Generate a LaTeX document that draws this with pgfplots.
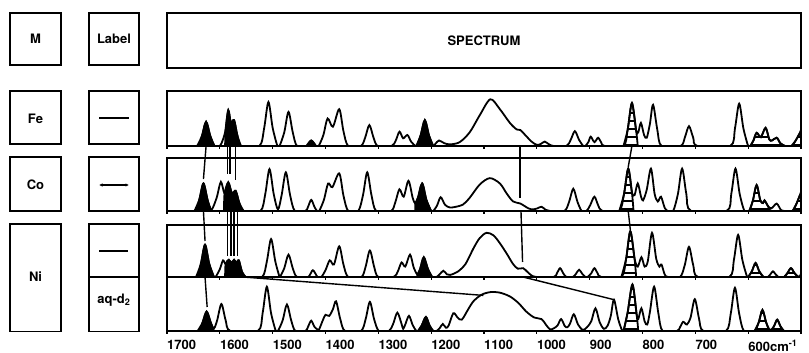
\documentclass[border=0pt]{standalone}
\usepackage{pgfplots}
\pgfplotsset{compat=1.18}
\usepackage{fontspec}
\setmainfont{TeX Gyre Heros}
\usetikzlibrary{patterns.meta,arrows.meta}

\pgfplotsset{
 panel/.style={scale only axis, width=634pt, height=#1, xmin=500, xmax=1700, x dir=reverse,
   ymin=0, ymax=1, ytick=\empty, xtick={500,600,...,1700}, xtick pos=lower, tick align=outside,
   major tick length=3pt, xticklabels={}, axis line style={line width=1.4pt},
   every tick/.style={line width=1.1pt, black}},
 spec/.style={smooth, tension=0.5, line width=1.8pt, black, no markers},
 blk/.style={smooth, tension=0.5, line width=1.8pt, draw=black, fill=black, no markers},
 hat/.style={smooth, tension=0.5, line width=1.8pt, draw=black, no markers,
   pattern={Lines[angle=0,distance=8pt,line width=1.4pt]}},
 conn/.style={line width=1.4pt, black, no markers},
}
\newcommand{\lab}{\fontsize{13}{15}\selectfont\bfseries}

\begin{document}
\begin{tikzpicture}[x=1pt,y=1pt]
\useasboundingbox (0,0) rectangle (809,353);
% ---------- boxes of the left columns and the header ----------
\begin{scope}[line width=1.4pt]
\draw (10,288) rectangle (61,340);
\draw (89,288) rectangle (139,340);
\draw (167,285) rectangle (801,340);
\draw (10,209) rectangle (61,262);
\draw (89,209) rectangle (139,262);
\draw (10,142) rectangle (61,196);
\draw (89,142) rectangle (139,196);
\draw (10,21.5) rectangle (61,129);
\draw (89,76) rectangle (139,129);
\draw (89,21.5) rectangle (139,76);
\end{scope}
\node[font=\lab] at (35.5,314) {M};
\node[font=\lab] at (114,314) {Label};
\node[font=\lab] at (484,312.5) {SPECTRUM};
\node[font=\lab] at (35.5,234) {Fe};
\node[font=\lab] at (35.5,168) {Co};
\node[font=\lab] at (35.5,76) {Ni};
\node[font=\lab] at (114,53) {aq-d\textsubscript{2}};
\draw[line width=2pt] (99,235) -- (129,235);
\draw[line width=1.3pt, {Latex[length=3.5pt,width=3.5pt]}-{Latex[length=3.5pt,width=3.5pt]}] (99,168) -- (129,168);
\draw[line width=1.6pt] (99,102) -- (128,102);

% ---------- Fe ----------
\begin{axis}[panel=55pt, at={(167pt,207pt)}, anchor=south west]
\addplot[blk] coordinates {(1643,0) (1634,0.18) (1626,0.44) (1618,0.18) (1610,0)} \closedcycle;
\addplot[blk] coordinates {(1590,0) (1589,0.3) (1584,0.65) (1579,0.42) (1573,0.47) (1567,0.2) (1560,0)} \closedcycle;
\addplot[blk] coordinates {(1436,0) (1427,0.1) (1418,0)} \closedcycle;
\addplot[blk] coordinates {(1228,0) (1220,0.19) (1212,0.47) (1204,0.19) (1196,0)} \closedcycle;
\addplot[hat] coordinates {(836,0) (828,0.3) (820,0.78) (812,0.28) (809,0)} \closedcycle;
\addplot[hat] coordinates {(596,0) (590,0.1) (584,0.24) (576,0.16) (567,0.33) (560,0.12) (555,0.1) (546,0.15) (539,0.05) (530,0)} \closedcycle;
\addplot[hat] coordinates {(518,0) (510,0.1) (502,0.24) (500,0.27) (500,0)} \closedcycle;
\addplot[spec] coordinates {
(1700,0) (1643,0) (1634,0.18) (1626,0.44) (1618,0.18) (1610,0)
(1600,0) (1594,0.12) (1589,0.3) (1584,0.65) (1579,0.42) (1573,0.47) (1567,0.2) (1560,0)
(1525,0) (1516,0.33) (1508,0.8) (1500,0.33) (1491,0)
(1487,0) (1478,0.25) (1470,0.62) (1462,0.25) (1454,0)
(1436,0) (1427,0.1) (1418,0)
(1413,0) (1404,0.2) (1396,0.5) (1386,0.35) (1374,0.67) (1366,0.27) (1357,0)
(1333,0) (1325,0.15) (1317,0.38) (1309,0.15) (1301,0)
(1275,0) (1267,0.1) (1260,0.26) (1253,0.14) (1245,0.2) (1238,0.08) (1230,0)
(1228,0) (1220,0.19) (1212,0.47) (1204,0.19) (1196,0)
(1192,0.04) (1185,0.1) (1175,0.05) (1164,0.03)
(1146,0.07) (1127,0.25) (1108,0.56) (1088,0.85) (1070,0.67) (1051,0.42) (1038,0.3) (1031,0.29) (1023,0.21) (1010,0.08) (1000,0.02) (992,0.04) (985,0.08) (977,0.03) (968,0)
(944,0) (936,0.11) (928,0.27) (920,0.11) (912,0)
(908,0) (902,0.08) (898,0.17) (891,0.07) (884,0.15) (878,0.06) (872,0)
(836,0) (828,0.3) (820,0.78) (812,0.28) (808,0.25) (803,0.42) (797,0.2) (792,0.15) (786,0.4) (780,0.75) (772,0.3) (764,0)
(728,0) (720,0.15) (712,0.36) (704,0.15) (696,0)
(634,0) (625,0.32) (617,0.77) (609,0.32) (600,0)
(596,0) (590,0.1) (584,0.24) (576,0.16) (567,0.33) (560,0.12) (555,0.1) (546,0.15) (539,0.05) (530,0)
(518,0) (510,0.1) (502,0.24) (500,0.27)};
\end{axis}

% ---------- Co ----------
\begin{axis}[panel=53pt, at={(167pt,142pt)}, anchor=south west]
\addplot[blk] coordinates {(1648,0) (1639,0.21) (1631,0.52) (1623,0.2) (1616,0)} \closedcycle;
\addplot[blk] coordinates {(1592,0) (1591,0.33) (1584,0.54) (1577,0.33) (1570,0.38) (1563,0.15) (1555,0)} \closedcycle;
\addplot[blk] coordinates {(1230,0) (1230,0.14) (1225,0.25) (1217,0.52) (1209,0.21) (1200,0)} \closedcycle;
\addplot[hat] coordinates {(844,0) (835,0.32) (827,0.8) (820,0.35) (817,0)} \closedcycle;
\addplot[hat] coordinates {(598,0) (591,0.2) (584,0.49) (577,0.2) (572,0.15) (569,0.2) (563,0.1) (558,0)} \closedcycle;
\addplot[hat] coordinates {(516,0) (508,0.15) (502,0.3) (500,0.33) (500,0)} \closedcycle;
\addplot[spec] coordinates {
(1700,0) (1648,0) (1639,0.21) (1631,0.52) (1623,0.2) (1616,0.02) (1606,0.25) (1598,0.55) (1591,0.33) (1584,0.54) (1577,0.33) (1570,0.38) (1563,0.15) (1555,0)
(1523,0) (1514,0.32) (1506,0.79) (1498,0.32) (1490,0.03) (1483,0.3) (1475,0.73) (1467,0.3) (1458,0)
(1438,0) (1433,0.08) (1427,0.21) (1421,0.08) (1416,0)
(1412,0) (1403,0.21) (1395,0.52) (1387,0.45) (1374,0.71) (1366,0.29) (1357,0)
(1338,0) (1329,0.3) (1321,0.73) (1313,0.3) (1304,0)
(1276,0) (1268,0.16) (1260,0.41) (1252,0.27) (1243,0.57) (1235,0.25) (1230,0.14) (1225,0.25) (1217,0.52) (1209,0.21) (1200,0)
(1196,0) (1189,0.1) (1182,0.26) (1174,0.12) (1166,0.07) (1158,0.07) (1140,0.12) (1127,0.25) (1108,0.5) (1089,0.62) (1070,0.52) (1057,0.33) (1045,0.18) (1031,0.14) (1016,0.05) (1007,0.03) (999,0.05) (991,0.08) (983,0.02) (975,0)
(948,0) (939,0.17) (931,0.42) (923,0.17) (915,0)
(906,0) (899,0.11) (891,0.27) (884,0.11) (876,0)
(844,0) (835,0.32) (827,0.8) (820,0.35) (815,0.3) (809,0.52) (803,0.28) (799,0.2) (792,0.4) (784,0.8) (777,0.32) (771,0.18) (765,0.27) (758,0.06) (752,0)
(742,0) (733,0.32) (725,0.8) (717,0.32) (708,0)
(641,0) (632,0.32) (624,0.8) (616,0.32) (607,0)
(598,0) (591,0.2) (584,0.49) (577,0.2) (572,0.15) (569,0.2) (563,0.1) (556,0.05) (546,0.14) (538,0.02) (530,0)
(516,0) (508,0.15) (502,0.3) (500,0.33)};
\end{axis}

% ---------- Ni ----------
\begin{axis}[panel=52pt, at={(167pt,76pt)}, anchor=south west]
\addplot[blk] coordinates {(1645,0) (1636,0.25) (1628,0.62) (1620,0.25) (1611,0)} \closedcycle;
\addplot[blk] coordinates {(1590,0) (1589,0.25) (1583,0.33) (1578,0.27) (1573,0.33) (1568,0.27) (1564,0.32) (1558,0.1) (1551,0)} \closedcycle;
\addplot[blk] coordinates {(1226,0) (1226,0.05) (1221,0.15) (1214,0.38) (1206,0.15) (1198,0)} \closedcycle;
\addplot[hat] coordinates {(840,0) (831,0.35) (823,0.88) (815,0.35) (812,0)} \closedcycle;
\addplot[hat] coordinates {(600,0) (593,0.11) (586,0.27) (579,0.11) (571,0)} \closedcycle;
\addplot[hat] coordinates {(532,0) (526,0.07) (519,0.17) (512,0.07) (505,0)} \closedcycle;
\addplot[spec] coordinates {
(1700,0) (1645,0) (1636,0.25) (1628,0.62) (1620,0.25) (1611,0)
(1608,0) (1600,0.15) (1594,0.32) (1589,0.25) (1583,0.33) (1578,0.27) (1573,0.33) (1568,0.27) (1564,0.32) (1558,0.1) (1551,0)
(1520,0) (1511,0.3) (1503,0.73) (1495,0.3) (1487,0)
(1486,0) (1478,0.17) (1470,0.43) (1462,0.17) (1454,0)
(1433,0) (1424,0.13) (1415,0)
(1408,0) (1400,0.13) (1392,0.32) (1384,0.24) (1374,0.59) (1366,0.24) (1357,0)
(1332,0) (1324,0.2) (1316,0.51) (1308,0.2) (1300,0)
(1271,0) (1263,0.11) (1256,0.28) (1249,0.2) (1240,0.43) (1233,0.18) (1226,0.05) (1221,0.15) (1214,0.38) (1206,0.15) (1198,0)
(1190,0) (1184,0.05) (1177,0.12) (1170,0.05) (1164,0.04)
(1150,0.1) (1135,0.25) (1120,0.55) (1108,0.75) (1095,0.85) (1082,0.8) (1070,0.65) (1057,0.45) (1045,0.25) (1036,0.16) (1026,0.17) (1018,0.1) (1010,0.03) (1000,0)
(968,0) (962,0.07) (956,0.17) (950,0.07) (944,0)
(932,0) (926,0.06) (920,0.14) (914,0.06) (908,0)
(904,0) (897,0.07) (891,0.17) (885,0.07) (878,0)
(840,0) (831,0.35) (823,0.88) (815,0.35) (809,0.2) (802,0.38) (796,0.2) (790,0.3) (782,0.85) (774,0.35) (768,0.2) (764,0.24) (758,0.05) (752,0)
(729,0) (720,0.23) (712,0.58) (704,0.23) (695,0)
(636,0) (627,0.33) (619,0.81) (611,0.33) (602,0)
(600,0) (593,0.11) (586,0.27) (579,0.11) (571,0)
(563,0) (558,0.05) (553,0.11) (548,0.05) (543,0)
(532,0) (526,0.07) (519,0.17) (512,0.07) (505,0) (502,0.02) (500,0.06)};
\end{axis}

% ---------- aq-d2 ----------
\begin{axis}[panel=54pt, at={(167pt,22pt)}, anchor=south west,
  xticklabels={,600cm\textsuperscript{-1},700,800,900,1000,1100,1200,1300,1400,1500,1600,1700},
  xticklabel style={anchor=north west, inner sep=0pt, font=\lab, yshift=-6pt}]
\addplot[blk] coordinates {(1642,0) (1633,0.15) (1625,0.36) (1617,0.15) (1611,0)} \closedcycle;
\addplot[blk] coordinates {(1225,0) (1218,0.1) (1210,0.26) (1203,0.1) (1196,0)} \closedcycle;
\addplot[hat] coordinates {(836,0) (828,0.35) (819,0.86) (811,0.3) (808,0)} \closedcycle;
\addplot[hat] coordinates {(588,0) (580,0.16) (573,0.39) (566,0.16) (560,0)} \closedcycle;
\addplot[hat] coordinates {(556,0) (551,0.09) (545,0.21) (539,0.09) (532,0)} \closedcycle;
\addplot[spec] coordinates {
(1700,0) (1642,0) (1633,0.15) (1625,0.36) (1617,0.15) (1611,0.05) (1605,0.2) (1597,0.5) (1589,0.2) (1580,0)
(1528,0) (1519,0.33) (1511,0.82) (1503,0.33) (1494,0)
(1490,0) (1481,0.2) (1473,0.49) (1465,0.2) (1457,0)
(1438,0) (1433,0.08) (1427,0.19) (1421,0.08) (1414,0.02)
(1412,0.03) (1405,0.2) (1400,0.3) (1393,0.28) (1386,0.4) (1380,0.55) (1372,0.22) (1363,0)
(1333,0) (1324,0.22) (1316,0.54) (1308,0.22) (1299,0)
(1280,0) (1272,0.13) (1264,0.34) (1256,0.13) (1253,0.04) (1249,0.12) (1242,0.28) (1235,0.11) (1228,0)
(1225,0) (1218,0.1) (1210,0.26) (1203,0.1) (1196,0)
(1190,0) (1184,0.05) (1178,0.13) (1172,0.06) (1167,0.1) (1158,0.33) (1150,0.25) (1142,0.21) (1130,0.4) (1120,0.55) (1105,0.67) (1088,0.72) (1070,0.71) (1051,0.64) (1035,0.52) (1020,0.36) (1005,0.25) (991,0.22) (983,0.12) (975,0.03)
(968,0.05) (961,0.1) (954,0.22) (947,0.09) (942,0.07) (937,0.14) (930,0.31) (922,0.12) (913,0.02) (905,0.07) (897,0.18) (889,0.42) (881,0.16) (873,0.04) (866,0.1) (860,0.28) (854,0.58) (846,0.22) (839,0.02)
(836,0) (828,0.35) (819,0.86) (811,0.3) (808,0.22) (802,0.42) (796,0.18) (791,0.12) (786,0.35) (778,0.82) (770,0.33) (762,0)
(735,0) (729,0.07) (723,0.17) (716,0.12) (709,0.25) (701,0.59) (693,0.23) (685,0)
(642,0) (633,0.32) (625,0.8) (617,0.32) (608,0)
(588,0) (580,0.16) (573,0.39) (566,0.16) (560,0.03)
(556,0.03) (551,0.09) (545,0.21) (539,0.09) (532,0) (500,0)};
\end{axis}

% ---------- connecting lines between the panels ----------
\begin{axis}[scale only axis, width=634pt, height=240pt, at={(167pt,22pt)}, anchor=south west,
  xmin=500, xmax=1700, x dir=reverse, ymin=22, ymax=262, hide axis, clip=false]
% Fe -> Co
\addplot[conn] coordinates {(1626,207) (1631,174)};
\addplot[conn] coordinates {(1586,207) (1586,179)};
\addplot[conn] coordinates {(1581,207) (1581,179)};
\addplot[conn] coordinates {(1570,207) (1570,173)};
\addplot[conn] coordinates {(1032,207) (1032,155)};
\addplot[conn] coordinates {(820,207) (827,186)};
% Co -> Ni
\addplot[conn] coordinates {(1631,142) (1628,112)};
\addplot[conn] coordinates {(1585,142) (1585,97)};
\addplot[conn] coordinates {(1579,142) (1579,97)};
\addplot[conn] coordinates {(1573,142) (1573,97)};
\addplot[conn] coordinates {(1566,142) (1566,97)};
\addplot[conn] coordinates {(1030,142) (1027,91)};
\addplot[conn] coordinates {(827,142) (823,123)};
% Ni -> aq-d2
\addplot[conn] coordinates {(1628,76) (1624,46)};
\addplot[conn] coordinates {(1556,76) (1101,57.6)};
\addplot[conn] coordinates {(1026,76) (854,53.3)};
\end{axis}
\end{tikzpicture}
\end{document}
